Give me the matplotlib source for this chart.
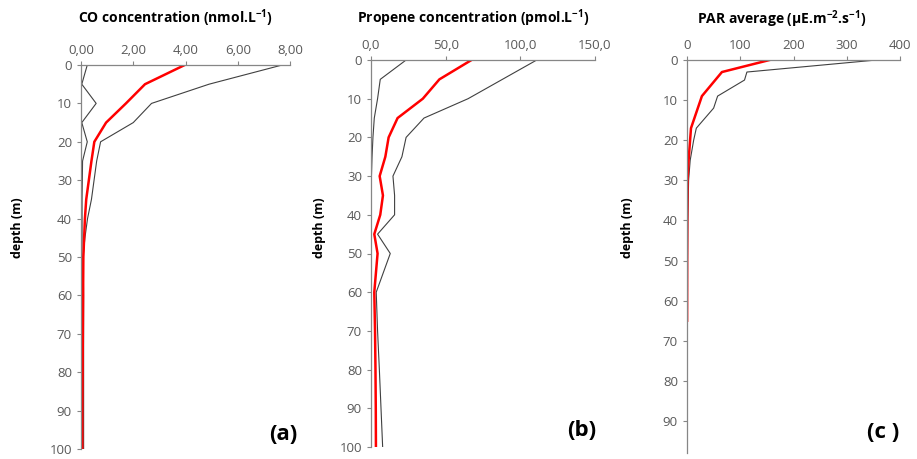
import matplotlib
matplotlib.use("Agg")
import matplotlib.pyplot as plt

plt.rcParams['font.family'] = ['Open Sans', 'DejaVu Sans']
plt.rcParams['mathtext.fontset'] = 'custom'
plt.rcParams['mathtext.rm'] = 'Open Sans'
plt.rcParams['mathtext.bf'] = 'Open Sans:bold'
plt.rcParams['mathtext.it'] = 'Open Sans:italic'

# ---- Panel (a): CO concentration (nmol/L) ----
co_depth = [0, 5, 10, 15, 20, 25, 30, 35, 40, 45, 50, 60, 70, 80, 90, 100]
co_mean = [3.97, 2.45, 1.72, 0.96, 0.51, 0.40, 0.30, 0.20, 0.15, 0.12, 0.09, 0.08, 0.07, 0.06, 0.05, 0.05]
co_max = [7.70, 4.90, 2.70, 2.00, 0.75, 0.60, 0.50, 0.40, 0.25, 0.15, 0.08, 0.10, 0.10, 0.10, 0.10, 0.10]
co_min = [0.24, 0.03, 0.58, 0.03, 0.24, 0.06, 0.05, 0.04, 0.04, 0.04, 0.03, 0.03, 0.03, 0.03, 0.03, 0.03]

# ---- Panel (b): Propene concentration (pmol/L) ----
pr_depth = [0, 5, 10, 15, 20, 25, 30, 35, 40, 45, 50, 60, 70, 80, 90, 100]
pr_mean = [67.3, 45.8, 34.7, 17.8, 11.8, 9.6, 5.8, 8.0, 6.2, 2.2, 4.4, 2.2, 2.7, 3.0, 3.2, 3.3]
pr_max = [111.0, 88.0, 65.0, 35.5, 23.5, 20.7, 14.7, 15.8, 15.8, 4.4, 12.9, 3.5, 4.4, 5.6, 6.7, 7.8]
pr_min = [23.5, 6.2, 4.4, 2.2, 1.3, 0.7, 0.3, 0.2, 0.2, 0.2, 0.2, 0.2, 0.2, 0.2, 0.2, 0.2]

# ---- Panel (c): PAR average ----
par_mean_depth = [0, 3, 9, 17, 25, 30, 40, 50, 65]
par_mean = [155, 65.6, 28, 7.5, 3, 1, 0.5, 0.3, 0.2]
par_max_depth = [0, 3, 5, 9, 12, 17, 20, 25, 30, 40, 50, 65, 80, 98]
par_max = [356, 112.5, 108, 57.5, 50, 17.5, 12.5, 6, 3, 1.5, 1, 0.8, 0.6, 0.5]

titles = [r"CO concentration (nmol.L$^{\mathbf{-1}}$)",
          r"Propene concentration (pmol.L$^{\mathbf{-1}}$)",
          r"PAR average (µE.m$^{\mathbf{-2}}$.s$^{\mathbf{-1}}$)"]
panel_labels = ["(a)", "(b)", "(c )"]
xticks_a = [0, 2, 4, 6, 8]
xlabels_a = ["0,00", "2,00", "4,00", "6,00", "8,00"]
xticks_b = [0, 50, 100, 150]
xlabels_b = ["0,0", "50,0", "100,0", "150,0"]
xticks_c = [0, 100, 200, 300, 400]
xlabels_c = ["0", "100", "200", "300", "400"]

W, H = 917, 459
fig = plt.figure(figsize=(W / 100, H / 100), dpi=100)

def ax_at(l, r, t, b):
    return fig.add_axes([l / W, 1 - b / H, (r - l) / W, (b - t) / H])

axes = [ax_at(81, 290, 65, 449), ax_at(371, 595, 60, 447), ax_at(687, 900, 60, 453)]

spine_c = '#868686'
text_c = '#595959'
red = '#ff0000'
gray = '#404040'

ax = axes[0]
ax.plot(co_max, co_depth, color=gray, lw=0.8)
ax.plot(co_min, co_depth, color=gray, lw=0.8)
ax.plot(co_mean, co_depth, color=red, lw=1.8)
ax.set_xlim(0, 8)
ax.set_ylim(100, 0)
ax.set_xticks(xticks_a, xlabels_a)
ax.set_yticks(range(0, 101, 10))

ax = axes[1]
ax.plot(pr_max, pr_depth, color=gray, lw=0.8)
ax.plot(pr_min, pr_depth, color=gray, lw=0.8)
ax.plot(pr_mean, pr_depth, color=red, lw=1.8)
ax.set_xlim(0, 150)
ax.set_ylim(100, 0)
ax.set_xticks(xticks_b, xlabels_b)
ax.set_yticks(range(0, 101, 10))

ax = axes[2]
ax.plot(par_max, par_max_depth, color=gray, lw=0.8)
ax.plot(par_mean, par_mean_depth, color=red, lw=1.8)
ax.set_xlim(0, 400)
ax.set_ylim(98, 0)
ax.set_xticks(xticks_c, xlabels_c)
ax.set_yticks(range(0, 91, 10))

label_xy = [(283, 435), (582, 430), (883, 433)]
title_xy = [(175, 18), (473, 18), (782, 19)]
ylab_x = [18, 320, 628]

for i, ax in enumerate(axes):
    for s in ['right', 'bottom']:
        ax.spines[s].set_visible(False)
    for s in ['left', 'top']:
        ax.spines[s].set_color(spine_c)
        ax.spines[s].set_linewidth(0.9)
    ax.xaxis.tick_top()
    ax.tick_params(axis='both', colors=spine_c, labelcolor=text_c, labelsize=9.5,
                   length=3, width=0.8, direction='out')
    ax.tick_params(axis='x', pad=3)
    ax.set_facecolor('none')
    fig.text(title_xy[i][0] / W, 1 - title_xy[i][1] / H, titles[i], ha='center', va='center',
             fontsize=10, fontweight='bold', color='black')
    fig.text(ylab_x[i] / W, 1 - 228 / H, "depth (m)", rotation=90, ha='center', va='center',
             fontsize=9, fontweight='bold', color='black')
    fig.text(label_xy[i][0] / W, 1 - label_xy[i][1] / H, panel_labels[i], ha='center', va='center',
             fontsize=16, fontweight='bold', color='black')

fig.savefig("out.png", dpi=100)
